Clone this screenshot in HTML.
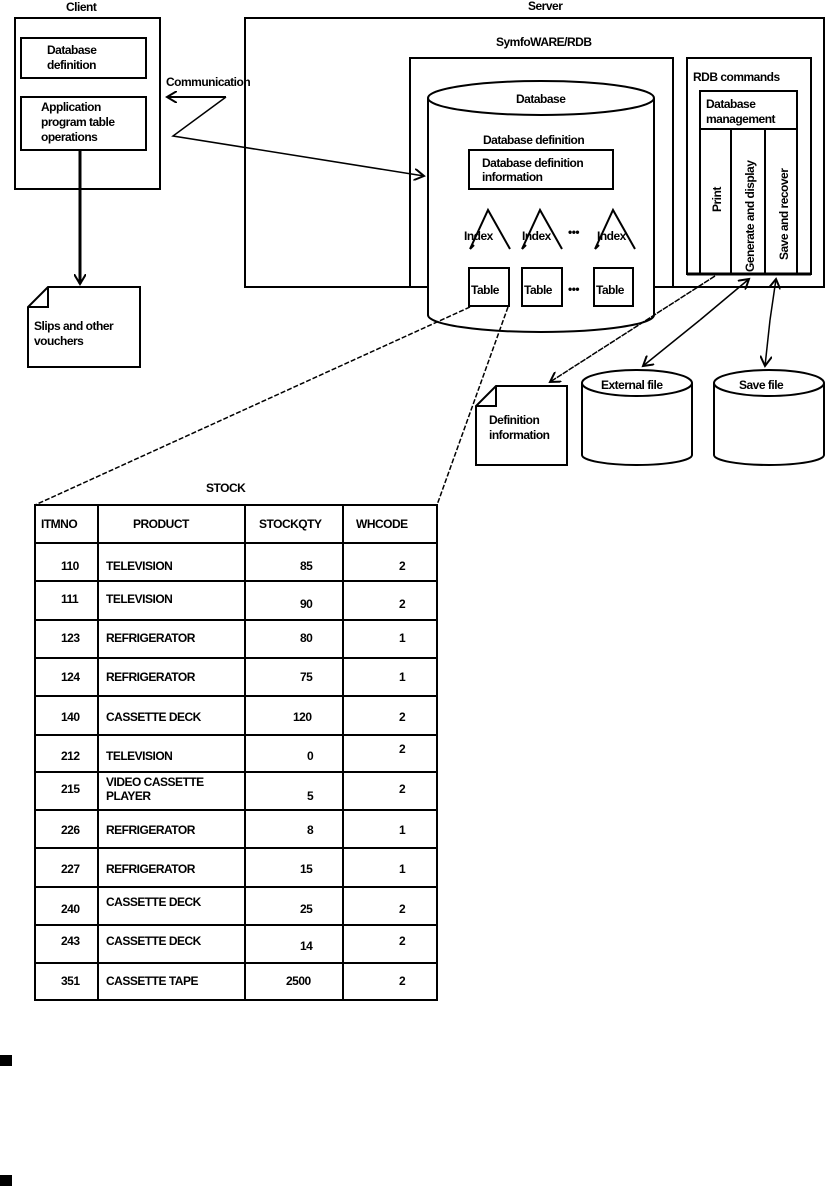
<!DOCTYPE html>
<html><head><meta charset="utf-8"><style>
html,body{margin:0;padding:0;background:#fff;}
svg{display:block;}
text{font-family:"Liberation Sans",Arial,sans-serif;font-size:12px;font-weight:bold;fill:#000;letter-spacing:-0.5px;}
</style></head><body>
<svg width="826" height="1188" viewBox="0 0 826 1188" xmlns="http://www.w3.org/2000/svg">
<defs>
<marker id="ah" markerWidth="12" markerHeight="12" refX="10" refY="6" orient="auto" markerUnits="userSpaceOnUse">
<path d="M0,0 L10,6 L0,12" fill="none" stroke="#000" stroke-width="2"/>
</marker>
</defs>
<g fill="none" stroke="#000" stroke-width="2">
<!-- Client -->
<rect x="15" y="18" width="145" height="171"/>
<rect x="21" y="38" width="125" height="40"/>
<rect x="21" y="97" width="125" height="53"/>
<line x1="80" y1="150" x2="80" y2="284" stroke-width="3" marker-end="url(#ah)"/>
<path d="M48,287 L140,287 L140,367 L28,367 L28,307 Z M28,307 L48,307 L48,287"/>
<!-- Server -->
<rect x="245" y="18" width="579" height="269"/>
<rect x="410" y="58" width="263" height="229" fill="#fff"/>
<!-- cylinder -->
<path d="M428,98 L428,315 A113,17 0 0 0 654,315 L654,98" fill="#fff"/>
<ellipse cx="541" cy="98" rx="113" ry="17" fill="#fff"/>
<rect x="469" y="150" width="144" height="39"/>
<path d="M470,249 L488,210 L510,249 M470,249 L474,245"/>
<path d="M522,249 L540,210 L562,249 M522,249 L526,245"/>
<path d="M595,249 L613,210 L635,249 M595,249 L599,245"/>
<rect x="469" y="268" width="40" height="38"/>
<rect x="522" y="268" width="40" height="38"/>
<rect x="594" y="268" width="39" height="38"/>
<!-- communication -->
<polyline points="226,97 167,97" marker-end="url(#ah)"/>
<polyline points="226,97 173,136 424,176" stroke-width="1.5" marker-end="url(#ah)"/>
<!-- RDB commands -->
<rect x="687" y="58" width="124" height="216"/>
<rect x="700" y="91" width="97" height="38"/>
<rect x="700" y="129" width="97" height="145"/>
<line x1="731" y1="129" x2="731" y2="274"/>
<line x1="765" y1="129" x2="765" y2="274"/>
<line x1="687" y1="274" x2="811" y2="274" stroke-width="3"/>
<!-- dashed connectors -->
<line x1="470" y1="307" x2="35" y2="505" stroke-width="1.5" stroke-dasharray="5,2"/>
<line x1="508" y1="307" x2="437" y2="505" stroke-width="1.5" stroke-dasharray="5,2"/>
<!-- RDB arrows -->
<line x1="715" y1="276" x2="550" y2="382" stroke-width="1.5" stroke-dasharray="6,1" marker-end="url(#ah)"/>
<line x1="700" y1="320" x2="749" y2="279" stroke-width="1.5" marker-end="url(#ah)"/>
<line x1="700" y1="320" x2="643" y2="366" stroke-width="1.5" marker-end="url(#ah)"/>
<line x1="770" y1="320" x2="776" y2="279" stroke-width="1.5" marker-end="url(#ah)"/>
<line x1="770" y1="320" x2="765" y2="366" stroke-width="1.5" marker-end="url(#ah)"/>
<!-- Definition doc -->
<path d="M496,386 L567,386 L567,465 L476,465 L476,406 Z M476,406 L496,406 L496,386"/>
<!-- External file -->
<path d="M582,383 L582,455 A55,10 0 0 0 692,455 L692,383"/>
<ellipse cx="637" cy="383" rx="55" ry="13" fill="#fff"/>
<path d="M714,383 L714,455 A55,10 0 0 0 824,455 L824,383"/>
<ellipse cx="769" cy="383" rx="55" ry="13" fill="#fff"/>
<!-- table -->
<rect x="35" y="505" width="402" height="495"/>
<line x1="98" y1="505" x2="98" y2="1000"/>
<line x1="245" y1="505" x2="245" y2="1000"/>
<line x1="343" y1="505" x2="343" y2="1000"/>
<line x1="35" y1="543" x2="437" y2="543"/>
<line x1="35" y1="581" x2="437" y2="581"/>
<line x1="35" y1="620" x2="437" y2="620"/>
<line x1="35" y1="658" x2="437" y2="658"/>
<line x1="35" y1="696" x2="437" y2="696"/>
<line x1="35" y1="735" x2="437" y2="735"/>
<line x1="35" y1="772" x2="437" y2="772"/>
<line x1="35" y1="810" x2="437" y2="810"/>
<line x1="35" y1="848" x2="437" y2="848"/>
<line x1="35" y1="887" x2="437" y2="887"/>
<line x1="35" y1="925" x2="437" y2="925"/>
<line x1="35" y1="963" x2="437" y2="963"/>
</g>
<rect x="0" y="1055" width="12" height="11" fill="#000"/>
<rect x="0" y="1175" width="12" height="11" fill="#000"/>

<text x="66" y="11">Client</text>
<text x="47" y="54">Database</text>
<text x="47" y="69">definition</text>
<text x="41" y="111">Application</text>
<text x="41" y="126">program table</text>
<text x="41" y="141">operations</text>
<text x="166" y="86">Communication</text>
<text x="34" y="330">Slips and other</text>
<text x="34" y="345">vouchers</text>
<text x="528" y="10">Server</text>
<text x="496" y="46">SymfoWARE/RDB</text>
<text x="516" y="103">Database</text>
<text x="483" y="144">Database definition</text>
<text x="482" y="167">Database definition</text>
<text x="482" y="181">information</text>
<text x="464" y="240">Index</text>
<text x="522" y="240">Index</text>
<text x="597" y="240">Index</text>
<text x="568" y="236">•••</text>
<text x="568" y="293">•••</text>
<text x="471" y="294">Table</text>
<text x="524" y="294">Table</text>
<text x="596" y="294">Table</text>
<text x="693" y="81">RDB commands</text>
<text x="706" y="108">Database</text>
<text x="706" y="123">management</text>
<text transform="translate(721,212) rotate(-90)">Print</text>
<text transform="translate(754,272) rotate(-90)">Generate and display</text>
<text transform="translate(788,260) rotate(-90)">Save and recover</text>
<text x="489" y="424">Definition</text>
<text x="489" y="439">information</text>
<text x="601" y="389">External file</text>
<text x="739" y="389">Save file</text>
<text x="206" y="492">STOCK</text>
<g>
<text x="41" y="528">ITMNO</text><text x="133" y="528">PRODUCT</text><text x="259" y="528">STOCKQTY</text><text x="356" y="528">WHCODE</text>
<text x="61" y="570">110</text><text x="106" y="570">TELEVISION</text><text x="300" y="570">85</text><text x="399" y="570">2</text>
<text x="61" y="603">111</text><text x="106" y="603">TELEVISION</text><text x="300" y="608">90</text><text x="399" y="608">2</text>
<text x="61" y="642">123</text><text x="106" y="642">REFRIGERATOR</text><text x="300" y="642">80</text><text x="399" y="642">1</text>
<text x="61" y="681">124</text><text x="106" y="681">REFRIGERATOR</text><text x="300" y="681">75</text><text x="399" y="681">1</text>
<text x="61" y="721">140</text><text x="106" y="721">CASSETTE DECK</text><text x="293" y="721">120</text><text x="399" y="721">2</text>
<text x="61" y="760">212</text><text x="106" y="760">TELEVISION</text><text x="307" y="760">0</text><text x="399" y="753">2</text>
<text x="61" y="793">215</text><text x="106" y="786">VIDEO CASSETTE</text><text x="106" y="800">PLAYER</text><text x="307" y="800">5</text><text x="399" y="793">2</text>
<text x="61" y="834">226</text><text x="106" y="834">REFRIGERATOR</text><text x="307" y="834">8</text><text x="399" y="834">1</text>
<text x="61" y="873">227</text><text x="106" y="873">REFRIGERATOR</text><text x="300" y="873">15</text><text x="399" y="873">1</text>
<text x="61" y="913">240</text><text x="106" y="906">CASSETTE DECK</text><text x="300" y="913">25</text><text x="399" y="913">2</text>
<text x="61" y="945">243</text><text x="106" y="945">CASSETTE DECK</text><text x="300" y="950">14</text><text x="399" y="945">2</text>
<text x="61" y="985">351</text><text x="106" y="985">CASSETTE TAPE</text><text x="286" y="985">2500</text><text x="399" y="985">2</text>
</g>
</svg>
</body></html>
